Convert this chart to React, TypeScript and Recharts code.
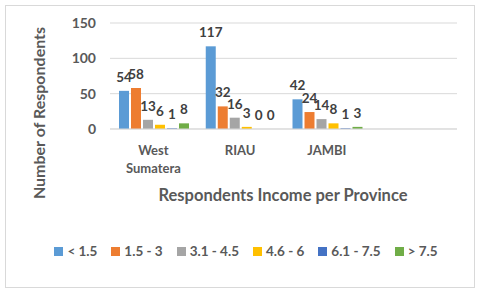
import { BarChart, Bar, XAxis, YAxis, CartesianGrid, Legend, LabelList } from 'recharts';

const provinces = ['West Sumatera', 'RIAU', 'JAMBI', ''];
const under15 = [54, 117, 42, null];
const from15to3 = [58, 32, 24, null];
const from31to45 = [13, 16, 14, null];
const from46to6 = [6, 3, 8, null];
const from61to75 = [1, 0, 1, null];
const over75 = [8, 0, 3, null];
const yTicks = [0, 50, 100, 150];

const series = [
  { key: 'a', name: '< 1.5', values: under15, color: '#5B9BD5' },
  { key: 'b', name: '1.5 - 3', values: from15to3, color: '#ED7D31' },
  { key: 'c', name: '3.1 - 4.5', values: from31to45, color: '#A5A5A5' },
  { key: 'd', name: '4.6 - 6', values: from46to6, color: '#FFC000' },
  { key: 'e', name: '6.1 - 7.5', values: from61to75, color: '#4472C4' },
  { key: 'f', name: '> 7.5', values: over75, color: '#70AD47' },
];

const data = provinces.map((province, i) => {
  const row: Record<string, string | number | null> = { province };
  series.forEach(s => { row[s.key] = s.values[i]; });
  return row;
});

const FONT = 'Lato, "Open Sans", sans-serif';
const TEXT = '#595959';

function ProvinceTick({ x, y, payload }: any) {
  const words = String(payload.value).split(' ');
  return (
    <text x={x} y={y} textAnchor="middle" fill={TEXT} fontSize={13} fontWeight="bold" fontFamily={FONT}>
      {words.map((w, i) => (
        <tspan key={i} x={x} dy={i === 0 ? 26 : 18}>{w}</tspan>
      ))}
    </text>
  );
}

function ValueLabel({ x, y, width, height, value }: any) {
  if (value === null || value === undefined) return null;
  const top = height < 0 ? y + height : y;
  return (
    <text x={x + width / 2} y={top - 9} textAnchor="middle" fill="#404040" fontSize={13.5} fontWeight="bold"
      fontFamily={FONT}>
      {value}
    </text>
  );
}

function LegendBox() {
  return (
    <div style={{ display: 'flex', justifyContent: 'center', gap: 14, fontSize: 13.5, fontWeight: 'bold',
      fontFamily: FONT, color: TEXT, paddingLeft: 12 }}>
      {series.map(s => (
        <span key={s.key} style={{ display: 'flex', alignItems: 'center' }}>
          <span style={{ width: 9, height: 9, background: s.color, marginRight: 4, display: 'inline-block' }} />
          {s.name}
        </span>
      ))}
    </div>
  );
}

export default function App() {
  return (
    <div style={{ position: 'absolute', left: 0, top: 0, width: 480, height: 293, background: '#fff', fontFamily: FONT }}>
      <div style={{ position: 'absolute', left: 5, top: 5, width: 468, height: 281, border: '1px solid #d9d9d9' }} />
      <div style={{ position: 'absolute', left: 0, top: 0 }}>
        <BarChart width={480} height={293} data={data} margin={{ top: 23, right: 23, left: 60, bottom: 0 }}
          barCategoryGap={9} barGap={2}>
          <CartesianGrid vertical={false} stroke="#d9d9d9" />
          <XAxis dataKey="province" height={164} tickSize={0} tickMargin={0} axisLine={{ stroke: '#d9d9d9' }}
            tickLine={false} tick={<ProvinceTick />} interval={0} />
          <YAxis width={50} domain={[0, 150]} ticks={yTicks} axisLine={false} tickLine={false} tickSize={0}
            tickMargin={14} tick={{ fill: TEXT, fontSize: 14, fontWeight: 'bold', fontFamily: FONT }} />
          <Legend layout="horizontal" verticalAlign="middle" align="center"
            wrapperStyle={{ top: 243, left: 0, width: 480 }} content={<LegendBox />} />
          {series.map(s => (
            <Bar key={s.key} dataKey={s.key} name={s.name} fill={s.color} isAnimationActive={false}
              minPointSize={0.01}>
              <LabelList dataKey={s.key} content={<ValueLabel />} />
            </Bar>
          ))}
        </BarChart>
      </div>
      <div style={{ position: 'absolute', left: 283, top: 195, transform: 'translate(-50%, -50%)', whiteSpace: 'nowrap',
        fontSize: 16.5, fontWeight: 'bold', color: TEXT }}>
        Respondents Income per Province
      </div>
      <div style={{ position: 'absolute', left: 38, top: 113, transform: 'translate(-50%, -50%) rotate(-90deg)',
        whiteSpace: 'nowrap', fontSize: 16, fontWeight: 'bold', color: TEXT }}>
        Number of Respondents
      </div>
    </div>
  );
}
